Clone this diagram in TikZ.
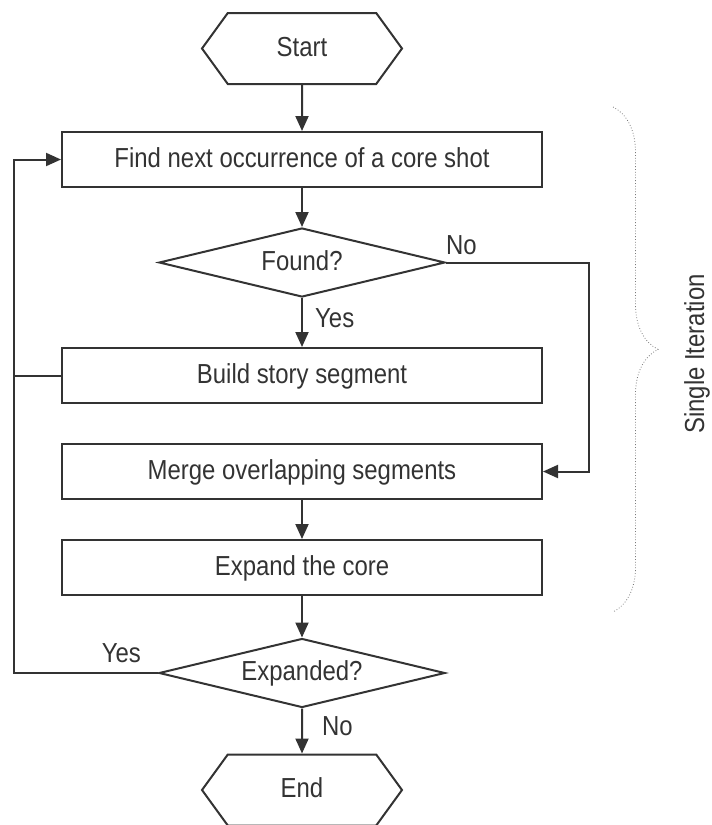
\documentclass[tikz,border=0pt]{standalone}
\usepackage{fontspec}
\setmainfont[FakeStretch=0.87]{Liberation Sans}
\usepackage{tikz}
\usetikzlibrary{arrows.meta}
\usetikzlibrary{positioning}
\usetikzlibrary{shapes.geometric}
\usetikzlibrary{shapes.symbols}
\usetikzlibrary{decorations.pathreplacing}
\usepackage{xcolor}
\definecolor{ink}{HTML}{333333}
\definecolor{bracegrey}{HTML}{7A7A7A}

\begin{document}
\begin{tikzpicture}[
    x=1pt, y=-1pt,
    every node/.style={font=\fontsize{27.5}{31}\selectfont, text=ink},
    terminal/.style={signal, signal to=west and east, signal pointer angle=108,
      draw=ink, line width=2pt, minimum width=200pt, minimum height=71pt,
      inner sep=0pt, text height=20pt, text depth=5pt},
    process/.style={rectangle, draw=ink, line width=2pt, minimum width=480pt,
      minimum height=55pt, inner sep=0pt, text height=20pt, text depth=5pt},
    decision/.style={diamond, draw=ink, line width=2pt, aspect=4.1,
      minimum width=286pt, minimum height=69pt, inner sep=0pt,
      text height=20pt, text depth=5pt},
    flow/.style={-{Triangle[length=15pt, width=13pt]}, line width=2pt, draw=ink},
    link/.style={line width=2pt, draw=ink},
    lbl/.style={inner sep=0pt},
    iter/.style={decorate, decoration={brace, amplitude=45pt, aspect=0.48},
      draw=bracegrey, dotted, line width=0.8pt},
  ]
    \useasboundingbox (0,0) rectangle (712,825);

    % Main column of steps, top to bottom
    \node[terminal] (start)    at (302,48.5)  {Start};
    \node[process]  (find)     at (302,159.5) {Find next occurrence of a core shot};
    \node[decision] (found)    at (302,262.5) {Found?};
    \node[process]  (build)    at (302,375.5) {Build story segment};
    \node[process]  (merge)    at (302,471.5) {Merge overlapping segments};
    \node[process]  (expand)   at (302,567.5) {Expand the core};
    \node[decision] (expanded) at (302,673)   {Expanded?};
    \node[terminal] (stop)     at (302,790)   {End};

    \draw[flow] (start) -- (find);
    \draw[flow] (find) -- (found);
    \draw[flow] (found) -- (build);
    \draw[flow] (merge) -- (expand);
    \draw[flow] (expand) -- (expanded);
    \draw[flow] (expanded) -- (stop);

    % Side paths: skip to merging, and loop back to the search
    \coordinate (nox) at (589,0);
    \coordinate (loopx) at (14,0);
    \draw[flow] (found.east) -- (found.east -| nox) |- (merge.east);
    \draw[flow] (expanded.west) -- (expanded.west -| loopx) |- (find.west);
    \draw[link] (build.west) -- (build.west -| loopx);

    \node[lbl, above right=8pt and 0pt of found.east] (nofound) {No};
    \node[lbl, below right=10pt and 13pt of found.south] (yesfound) {Yes};
    \node[lbl, above left=10pt and 17pt of expanded.west] (yesmore) {Yes};
    \node[lbl, below right=8pt and 20pt of expanded.south] (nomore) {No};

    % Brace over one pass of the loop
    \coordinate (bracetop) at (613,107);
    \coordinate (bracebot) at (613,612);
    \draw[iter] (bracetop) -- (bracebot);
    \node[rotate=90] (iterlbl) at (697,354) {Single Iteration};
\end{tikzpicture}
\end{document}
